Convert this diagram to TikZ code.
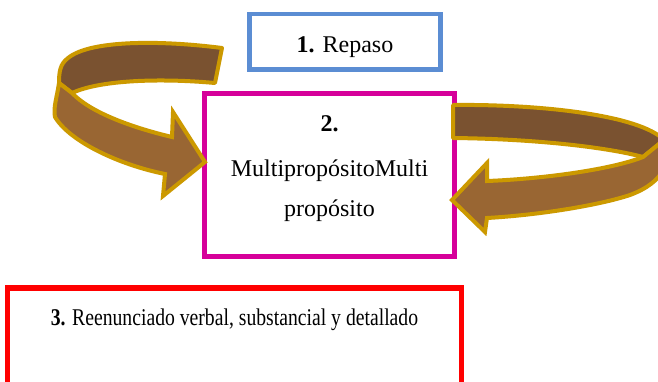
\documentclass[tikz,border=0pt]{standalone}
\usepackage{fontspec}
\setmainfont{Liberation Serif}
\definecolor{boxblue}{HTML}{5B8DD3}
\definecolor{boxmag}{HTML}{D6009A}
\definecolor{boxred}{HTML}{FF0000}
\definecolor{gold}{HTML}{CC9900}
\definecolor{darkbrown}{HTML}{7A5230}
\definecolor{lightbrown}{HTML}{996633}
\tikzset{
  box/.style={draw, rectangle, inner sep=0pt},
  lbl/.style={anchor=base, inner sep=0pt, font=\fontsize{24}{28}\selectfont},
  bandback/.style={fill=darkbrown, draw=gold, line width=4pt, line join=round},
  bandfront/.style={fill=lightbrown, draw=gold, line width=4pt, line join=miter},
}
\begin{document}
\begin{tikzpicture}[x=1pt,y=-1pt]
\useasboundingbox (0,0) rectangle (658,381);
\clip (0,0) rectangle (658,381);
\fill[white] (0,0) rectangle (658,381);

% boxes
\node[box, draw=boxblue, line width=4.5pt, minimum width=191pt, minimum height=55.5pt] (b1) at (345,41.75) {};
\node[box, draw=boxmag, line width=5.5pt, minimum width=250pt, minimum height=163pt] (b2) at (329.5,175) {};
\node[box, draw=boxred, line width=5.5pt, minimum width=454pt, minimum height=140pt] (b3) at (234.5,358) {};

% texts
\node[lbl] (t1) at (345,52) {\textbf{1.} Repaso};
\node[lbl] (t2a) at (329.5,131) {\textbf{2.}};
\node[lbl] (t2b) at (329.5,176) {Multipropósito\-Multi};
\node[lbl] (t2c) at (329.5,216) {propósito};
\node[lbl] (t3) at (234.5,325) {\scalebox{0.82}[1]{\textbf{3.} Reenunciado verbal, substancial y detallado}};

% left curved arrow: back (top) band
\draw[bandback] (222,48) .. controls (160,40) and (90,40) .. (68,58)
  .. controls (60,64) and (59,72) .. (59,83)
  -- (72,93) .. controls (100,80) and (160,78) .. (215,83) -- cycle;
% left curved arrow: front band with head
\draw[bandfront] (59,83) .. controls (57,97) and (53,108) .. (55,117)
  .. controls (70,142) and (120,165) .. (165,174)
  -- (163,196) -- (205,162) -- (173,112) -- (172,137)
  .. controls (130,127) and (90,112) .. (72,93) -- cycle;

% right curved arrow: back (top) band
\draw[bandback] (453,105) .. controls (540,104) and (640,115) .. (664,140)
  -- (643,157) .. controls (610,148) and (540,139) .. (453,138) -- cycle;
% right curved arrow: front band with head
\draw[bandfront] (664,140) .. controls (672,160) and (665,182) .. (630,195)
  .. controls (600,205) and (540,215) .. (487,218)
  -- (485,232) -- (452,200) -- (487,163) -- (487,181)
  .. controls (540,179) and (610,170) .. (643,157) -- cycle;
\end{tikzpicture}
\end{document}
